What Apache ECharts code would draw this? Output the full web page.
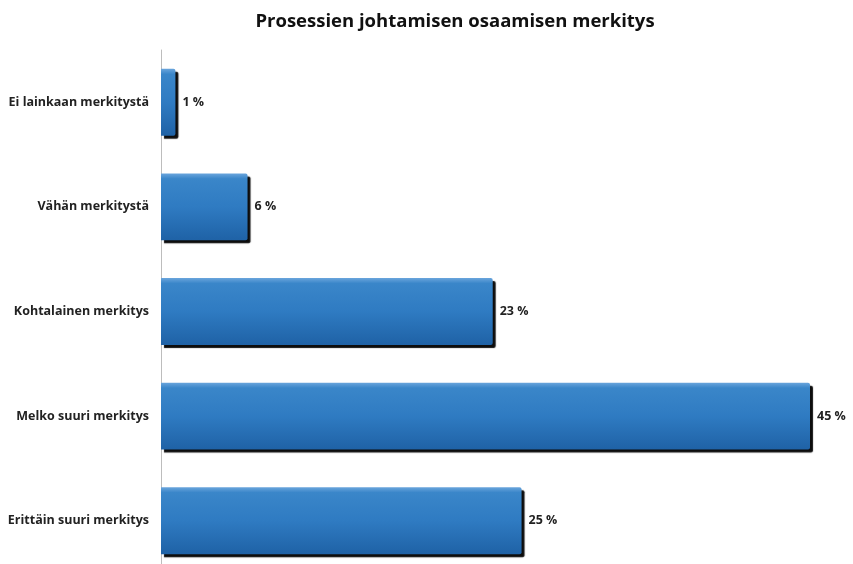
<!DOCTYPE html>
<html>
<head>
<meta charset="utf-8">
<script src="https://cdn.jsdelivr.net/npm/echarts@6/dist/echarts.min.js"></script>
<style>
  html, body { margin: 0; padding: 0; background: #fff; }
  #chart { width: 853px; height: 564px; }
</style>
</head>
<body>
<div id="chart"></div>
<script>
// kategoriat ylhäältä alas
const categories = [
  "Ei lainkaan merkitystä",
  "Vähän merkitystä",
  "Kohtalainen merkitys",
  "Melko suuri merkitys",
  "Erittäin suuri merkitys"
];
const values = [1, 6, 23, 45, 25];

const myChart = echarts.init(document.getElementById("chart"));
myChart.setOption({
  animation: false,
  title: {
    text: "Prosessien johtamisen osaamisen merkitys",
    left: 450,
    top: 7,
    textAlign: "center",
    textStyle: {
      fontFamily: "Open Sans",
      fontWeight: "bold",
      fontSize: 18.5,
      color: "#111"
    }
  },
  grid: {
    left: 161,
    right: 43,
    top: 50,
    bottom: -9,
    containLabel: false,
    outerBoundsMode: "none"
  },
  xAxis: {
    type: "value",
    min: 0,
    max: 45,
    show: false
  },
  yAxis: {
    type: "category",
    inverse: true,
    data: categories,
    axisLine: { show: true, lineStyle: { color: "#bdbdbd", width: 1 } },
    axisTick: { show: false },
    axisLabel: {
      margin: 12,
      fontFamily: "Open Sans",
      fontWeight: "bold",
      fontSize: 12.5,
      color: "#222"
    }
  },
  series: [
    {
      type: "bar",
      data: values,
      barCategoryGap: "36%",
      itemStyle: {
        color: new echarts.graphic.LinearGradient(0, 0, 0, 1, [
          { offset: 0, color: "#6aa5dc" },
          { offset: 0.08, color: "#3a86c9" },
          { offset: 0.5, color: "#2f7bc2" },
          { offset: 1, color: "#1f62a6" }
        ]),
        borderRadius: [0, 2, 2, 0],
        shadowColor: "rgba(0,0,0,0.95)",
        shadowBlur: 1,
        shadowOffsetX: 3,
        shadowOffsetY: 3
      },
      label: {
        show: true,
        position: "right",
        distance: 7,
        formatter: "{c} %",
        fontFamily: "Open Sans",
        fontWeight: "bold",
        fontSize: 12.5,
        color: "#222"
      }
    }
  ]
});
</script>
</body>
</html>
